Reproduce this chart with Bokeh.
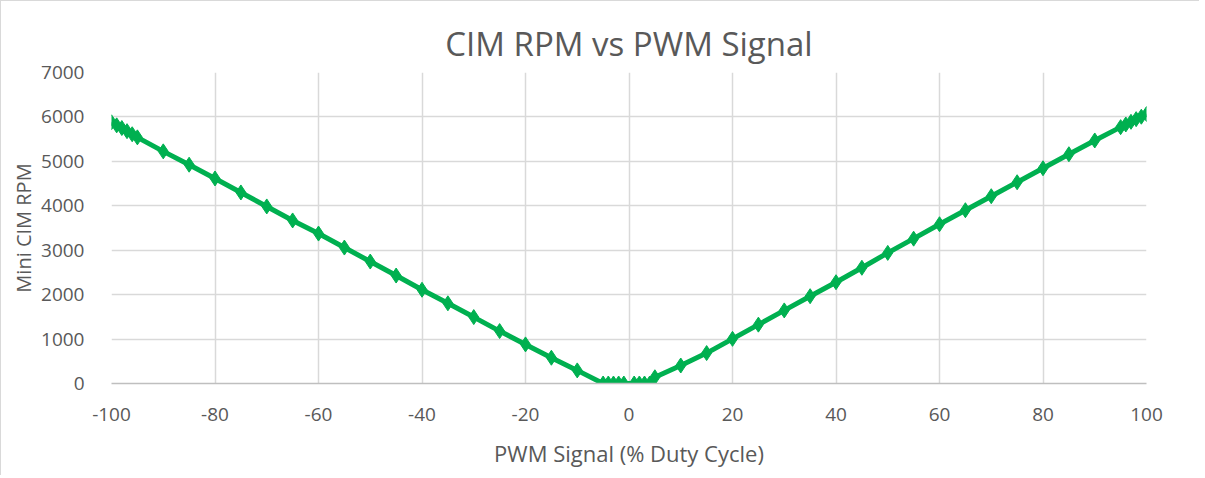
from bokeh.plotting import figure
from bokeh.models import Range1d, FixedTicker, PrintfTickFormatter
from bokeh.embed import file_html
from bokeh.resources import INLINE

# Data
pwm = [-100, -99, -98, -97, -96, -95, -90, -85, -80, -75, -70, -65, -60, -55,
       -50, -45, -40, -35, -30, -25, -20, -15, -10, -5, -4, -3, -2, -1,
       1, 2, 3, 4, 5, 10, 15, 20, 25, 30, 35, 40, 45, 50, 55, 60, 65, 70,
       75, 80, 85, 90, 95, 96, 97, 98, 99, 100]
rpm = [5880, 5810, 5750, 5680, 5610, 5540, 5225, 4925, 4615, 4300, 3985, 3670,
       3375, 3060, 2745, 2430, 2110, 1805, 1495, 1180, 880, 580, 295, 0, 0, 0,
       0, 0, 0, 0, 0, 0, 140, 405, 685, 1005, 1325, 1645, 1965, 2280, 2605,
       2940, 3260, 3585, 3900, 4215, 4530, 4845, 5160, 5470, 5770, 5830, 5890,
       5950, 6005, 6065]

x_ticks = [-100, -80, -60, -40, -20, 0, 20, 40, 60, 80, 100]
y_ticks = [0, 1000, 2000, 3000, 4000, 5000, 6000, 7000]

title_text = "CIM RPM vs PWM Signal"
x_label = "PWM Signal (% Duty Cycle)"
y_label = "Mini CIM RPM"

FONT = "Open Sans"
GREEN = "#00B050"
GRID = "#d9d9d9"
TXT = "#595959"

p = figure(width=1198, height=474, output_backend="svg", toolbar_location=None,
           x_range=Range1d(-100, 100), y_range=Range1d(0, 7000),
           frame_width=1035, frame_height=311,
           min_border_left=110, min_border_right=53, min_border_top=71,
           min_border_bottom=92, title=title_text)
p.styles = {"border-left": "1px solid #d9d9d9", "border-top": "1px solid #d9d9d9"}
p.outline_line_color = None
p.background_fill_color = "white"
p.border_fill_color = "white"

p.title.align = "center"
p.title.text_font = FONT
p.title.text_font_size = "33px"
p.title.text_font_style = "normal"
p.title.text_color = TXT
p.title.standoff = 14

p.xaxis.ticker = FixedTicker(ticks=x_ticks)
p.yaxis.ticker = FixedTicker(ticks=y_ticks)
p.xaxis.formatter = PrintfTickFormatter(format="%d")
p.yaxis.formatter = PrintfTickFormatter(format="%d")

for ax in (p.xaxis[0], p.yaxis[0]):
    ax.major_tick_line_color = None
    ax.minor_tick_line_color = None
    ax.major_label_text_font = FONT
    ax.major_label_text_font_size = "19px"
    ax.major_label_text_color = TXT
    ax.axis_label_text_font = FONT
    ax.axis_label_text_font_style = "normal"
    ax.axis_label_text_color = TXT

p.xaxis.axis_label_text_font_size = "22px"
p.yaxis.axis_label_text_font_size = "20px"
p.xaxis.axis_line_color = "#bfbfbf"
p.xaxis.axis_line_width = 1.5
p.yaxis.axis_line_color = None
p.xaxis.major_label_standoff = 18
p.yaxis.major_label_standoff = 21
p.xaxis.axis_label_standoff = 14
p.yaxis.axis_label_standoff = 1
p.xaxis.axis_label = x_label
p.yaxis.axis_label = y_label

p.xgrid.grid_line_color = GRID
p.ygrid.grid_line_color = GRID
p.xgrid.grid_line_width = 1.5
p.ygrid.grid_line_width = 1.5

p.line(pwm, rpm, line_color=GREEN, line_width=5)
p.scatter(pwm, rpm, marker="diamond", size=15, fill_color=GREEN, line_color=GREEN)

open("out.html", "w").write(file_html(p, INLINE))
